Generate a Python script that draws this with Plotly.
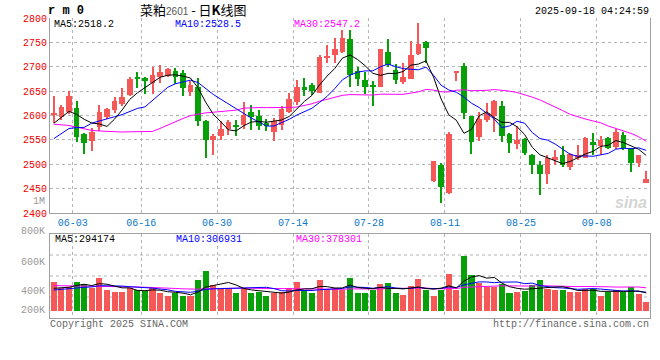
import numpy as np
import pandas as pd
import plotly.graph_objects as go

W, H = 660, 360

# ---------------- data ----------------
# trading days (Dragon Boat holiday on 2025-06-02)
dates = pd.bdate_range("2025-05-29", "2025-09-17", freq="C", holidays=["2025-06-02"])
date_labels = [d.strftime("%m-%d") for d in dates]
tick_labels = ["06-03", "06-16", "06-30", "07-14", "07-28", "08-11", "08-25", "09-08"]

opens = [2603, 2597, 2608, 2615, 2563, 2547, 2576, 2597, 2612, 2624,
         2642, 2677, 2677, 2666, 2680, 2682, 2691, 2688, 2649, 2659,
         2588, 2550, 2557, 2573, 2581, 2581, 2608, 2598, 2584, 2567,
         2581, 2608, 2627, 2658, 2663, 2647, 2719, 2724, 2731, 2757,
         2691, 2673, 2663, 2659, 2730, 2693, 2668, 2675, 2726, 2750,
         2465, 2499, 2441, 2688, 2702, 2599, 2556, 2590, 2599, 2620,
         2563, 2542, 2552, 2520, 2499, 2479, 2508, 2520, 2494, 2513,
         2513, 2546, 2537, 2554, 2535, 2560, 2533, 2503, 2462]
highs = [2641, 2622, 2650, 2630, 2564, 2575, 2622, 2615, 2638, 2656,
         2678, 2689, 2679, 2699, 2703, 2697, 2697, 2693, 2670, 2676,
         2590, 2563, 2588, 2591, 2591, 2627, 2622, 2612, 2593, 2595,
         2620, 2646, 2673, 2676, 2666, 2724, 2745, 2760, 2775, 2775,
         2700, 2690, 2670, 2737, 2757, 2705, 2707, 2753, 2790, 2752,
         2507, 2502, 2566, 2691, 2708, 2600, 2608, 2625, 2632, 2629,
         2564, 2578, 2554, 2522, 2506, 2520, 2530, 2537, 2523, 2540,
         2555, 2564, 2557, 2556, 2572, 2566, 2533, 2520, 2487]
lows = [2584, 2590, 2604, 2545, 2522, 2528, 2569, 2593, 2605, 2620,
        2639, 2657, 2644, 2645, 2667, 2680, 2665, 2641, 2640, 2578,
        2513, 2518, 2549, 2560, 2557, 2573, 2571, 2571, 2569, 2547,
        2571, 2605, 2622, 2639, 2642, 2646, 2707, 2707, 2728, 2659,
        2661, 2644, 2620, 2658, 2700, 2664, 2665, 2674, 2724, 2707,
        2463, 2421, 2439, 2670, 2593, 2522, 2547, 2586, 2567, 2545,
        2524, 2531, 2518, 2479, 2436, 2460, 2499, 2494, 2488, 2509,
        2512, 2520, 2520, 2532, 2532, 2530, 2485, 2494, 2462]
closes = [2605, 2618, 2639, 2555, 2544, 2567, 2608, 2614, 2630, 2638,
          2675, 2675, 2670, 2683, 2689, 2696, 2680, 2656, 2663, 2588,
          2549, 2558, 2572, 2586, 2577, 2601, 2597, 2578, 2578, 2588,
          2613, 2633, 2658, 2653, 2650, 2721, 2723, 2736, 2758, 2683,
          2674, 2659, 2659, 2736, 2704, 2673, 2679, 2724, 2747, 2738,
          2506, 2454, 2563, 2690, 2605, 2545, 2593, 2605, 2629, 2558,
          2544, 2549, 2524, 2499, 2481, 2513, 2514, 2499, 2522, 2518,
          2553, 2540, 2550, 2533, 2567, 2533, 2503, 2518, 2470]
# volume, lots
volumes = [478000, 380000, 397000, 478000, 446000, 370000, 543000, 342000, 315000, 315000,
           370000, 337000, 318000, 380000, 288000, 250000, 288000, 250000, 250000, 505000,
           657000, 424000, 370000, 370000, 299000, 380000, 299000, 310000, 250000, 288000,
           315000, 380000, 478000, 342000, 299000, 505000, 360000, 370000, 342000, 543000,
           299000, 299000, 342000, 440000, 462000, 299000, 261000, 408000, 522000, 342000,
           250000, 342000, 600000, 342000, 900000, 590000, 451000, 397000, 397000, 440000,
           299000, 315000, 326000, 430000, 500720, 359000, 342000, 342000, 315000, 310000,
           365000, 365000, 248440, 310000, 340000, 312000, 395000, 275870, 148000]
# closes / volumes of the 29 sessions before the window (needed for MA warm-up)
prior_closes = [2660, 2670, 2665, 2650, 2655, 2645, 2650, 2640, 2655, 2660,
                2665, 2670, 2675, 2500, 2480, 2470, 2475, 2480, 2490, 2480,
                2520, 2530, 2535, 2541, 2480, 2560, 2575, 2585, 2595]
prior_volumes = [430000, 460000, 470000, 440000, 450000, 480000, 455000, 430000, 445000, 460000,
                 440000, 450000, 435000, 465000, 450000, 440000, 445000, 455000, 450000, 440000,
                 300000, 320000, 310000, 330000, 310000, 340000, 350000, 335000, 347000]

price_ticks = [2400, 2450, 2500, 2550, 2600, 2650, 2700, 2750, 2800]

# ---------------- derived ----------------
n = len(closes)
x = np.arange(n)
o = np.array(opens, float); c = np.array(closes, float)
hi = np.array(highs, float); lo = np.array(lows, float)
vol = np.array(volumes, float)
up = c >= o
RED, GREEN = "#f65858", "#08a008"
cols = [RED if u else GREEN for u in up]

allc = pd.Series(list(prior_closes) + list(closes), dtype=float)
allv = pd.Series(list(prior_volumes) + list(volumes), dtype=float)
k0 = len(prior_closes)
ma = {p: allc.rolling(p).mean().values[k0:] for p in (5, 10, 30)}
vma = {p: allv.rolling(p).mean().values[k0:] for p in (5, 10, 30)}

tickpos = [date_labels.index(t) + 0.5 for t in tick_labels]

MONO = "Liberation Mono"
GRID = "#b4b4b4"
FRAME = "#a0a0a0"

fig = go.Figure()
# wicks
fig.add_trace(go.Bar(x=x, y=hi - lo, base=lo, width=0.14, marker_color=cols,
                     marker_line_width=0, xaxis="x", yaxis="y", hoverinfo="skip"))
# bodies
fig.add_trace(go.Bar(x=x, y=np.maximum(np.abs(c - o), 2.0), base=np.minimum(o, c),
                     width=0.74, marker_color=cols, marker_line_width=0,
                     xaxis="x", yaxis="y", customdata=np.stack([o, hi, lo, c], 1),
                     hovertemplate="O %{customdata[0]}<br>H %{customdata[1]}<br>L %{customdata[2]}<br>C %{customdata[3]}<extra></extra>"))
for p, colr in ((30, "#ff00ff"), (10, "#0000ff"), (5, "#000000")):
    fig.add_trace(go.Scatter(x=x, y=ma[p], mode="lines", line=dict(color=colr, width=1),
                             xaxis="x", yaxis="y", hoverinfo="skip"))
# volume
fig.add_trace(go.Bar(x=x, y=vol, width=0.8, marker_color=cols, marker_line_width=0,
                     xaxis="x2", yaxis="y2", hoverinfo="skip"))
for p, colr in ((30, "#ff00ff"), (10, "#0000ff"), (5, "#000000")):
    fig.add_trace(go.Scatter(x=x, y=vma[p], mode="lines", line=dict(color=colr, width=1),
                             xaxis="x2", yaxis="y2", hoverinfo="skip"))

def px(v):
    return v / W

def py(v):
    return 1 - v / H

xdom = [px(50), px(650)]
xr = [-0.5, n - 0.5]
fig.update_layout(
    width=W, height=H, margin=dict(l=0, r=0, t=0, b=0, autoexpand=False),
    paper_bgcolor="white", plot_bgcolor="white", showlegend=False,
    barmode="overlay", bargap=0,
    xaxis=dict(domain=xdom, range=xr, tickvals=tickpos, ticktext=tick_labels,
               tickfont=dict(family=MONO, size=10, color="#0a78c8"), ticks="",
               showgrid=True, gridcolor=GRID, griddash="dot", gridwidth=1,
               showline=True, linecolor=FRAME, linewidth=1, mirror=False,
               zeroline=False, anchor="y", fixedrange=True, automargin=False),
    yaxis=dict(domain=[py(213), py(18)], range=[2400, 2800], tickvals=price_ticks,
               tickfont=dict(family=MONO, size=10, color="#ee0000"), ticks="",
               showgrid=True, gridcolor=GRID, griddash="dot", gridwidth=1,
               showline=True, linecolor=FRAME, linewidth=1, mirror=True,
               zeroline=False, anchor="x", fixedrange=True, automargin=False),
    xaxis2=dict(domain=xdom, range=xr, tickvals=tickpos, showticklabels=False, ticks="",
                showgrid=True, gridcolor=GRID, griddash="dot", gridwidth=1,
                showline=True, linecolor=FRAME, linewidth=1, mirror=True,
                zeroline=False, anchor="y2", fixedrange=True, automargin=False),
    yaxis2=dict(domain=[py(318), py(234)], range=[-7 * 16300, 77 * 16300],
                showticklabels=False, ticks="", showgrid=False,
                showline=True, linecolor=FRAME, linewidth=1, mirror=True,
                zeroline=False, anchor="x2", fixedrange=True, automargin=False),
)

# volume panel horizontal grid (quarters of the panel)
for f in (0.25, 0.5, 0.75):
    fig.add_shape(type="line", xref="x2 domain", yref="y2 domain", x0=0, x1=1, y0=f, y1=f,
                  line=dict(color=GRID, width=1, dash="dot"), layer="below")

ann = []

def text(s, x0, y0, color="#000", size=10, family=MONO, xanchor="left", yanchor="middle"):
    ann.append(dict(text=s, x=px(x0), y=py(y0), xref="paper", yref="paper", showarrow=False,
                    xanchor=xanchor, yanchor=yanchor, borderpad=0,
                    font=dict(family=family, size=size, color=color)))

text("<b>r m 0</b>", 47, 11, size=12, family="Liberation Mono")
text("菜粕<span style='font-size:10px;color:#555;font-family:Liberation Sans'>2601</span> - 日<b>K</b>线图",
     139, 9, size=13, family="Noto Sans CJK SC")
text("2025-09-18 04:24:59", 650, 12, xanchor="right")
text(f"MA5:{ma[5][-1]:.1f}", 53, 24.5)
text(f"MA10:{ma[10][-1]:.1f}", 174, 24.5, color="#0000ff")
text(f"MA30:{ma[30][-1]:.1f}", 293, 24.5, color="#ff00ff")
text(f"MA5:{vma[5][-1]:.0f}", 54, 239)
text(f"MA10:{vma[10][-1]:.0f}", 175, 239, color="#0000ff")
text(f"MA30:{vma[30][-1]:.0f}", 295, 239, color="#ff00ff")
text("1M", 46, 201, color="#999", xanchor="right")
for lab, yy in (("800K", 231), ("600K", 262), ("400K", 291), ("200K", 310)):
    text(lab, 46, yy, color="#999", xanchor="right")
text("Copyright 2025 SINA.COM", 49, 324, color="#666")
text("http://finance.sina.com.cn", 650, 324, color="#666", xanchor="right")
text("<b><i>sina</i></b>", 648, 202, color="#d4d4d4", size=16, family="Liberation Sans", xanchor="right")
fig.update_layout(annotations=ann)

fig.write_html("out.html", config={"displayModeBar": False},
               post_script="document.body.style.margin='0';document.body.style.overflow='hidden';")
